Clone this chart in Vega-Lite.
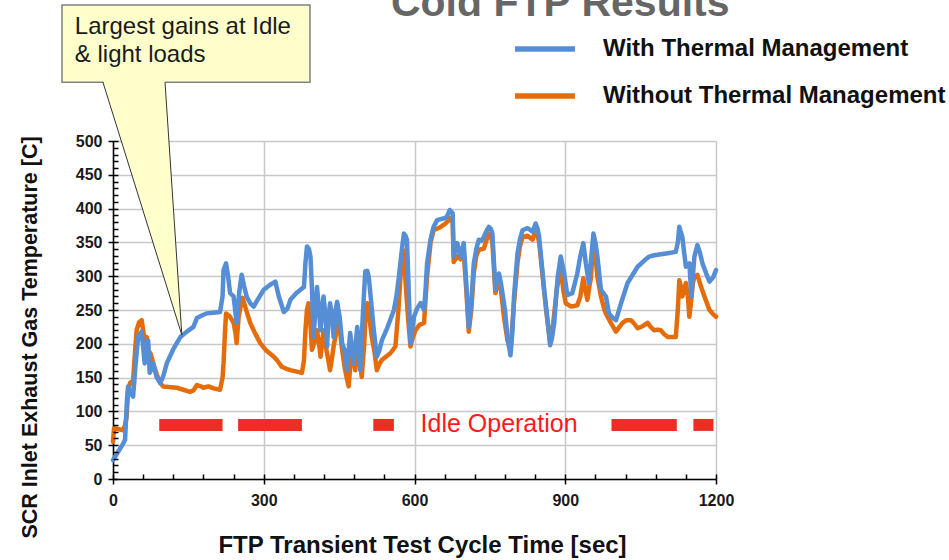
{
  "$schema": "https://vega.github.io/schema/vega-lite/v6.json",
  "width": 603,
  "height": 338,
  "autosize": "none",
  "padding": {"left": 113, "top": 141, "right": 233, "bottom": 81},
  "background": "white",
  "config": {"view": {"stroke": null}, "font": "Liberation Sans"},
  "resolve": {"axis": {"x": "independent", "y": "independent"}},
  "layer": [
    {
      "data": {"values": [
        {"s": 92, "e": 218, "y": 80},
        {"s": 249, "e": 376, "y": 80},
        {"s": 518, "e": 559, "y": 80},
        {"s": 992, "e": 1122, "y": 80},
        {"s": 1155, "e": 1195, "y": 80}
      ]},
      "mark": {"type": "rule", "strokeWidth": 12, "color": "#ee2e24", "strokeCap": "butt"},
      "encoding": {
        "x": {"field": "s", "type": "quantitative", "scale": {"domain": [0, 1200], "nice": false, "zero": false},
          "axis": {"orient": "bottom", "values": [0,60,120,180,240,300,360,420,480,540,600,660,720,780,840,900,960,1020,1080,1140,1200],
            "tickSize": -5, "tickColor": "black", "tickWidth": 1.5, "labels": false, "domain": false, "grid": false, "title": null, "zindex": 1}},
        "x2": {"field": "e"},
        "y": {"field": "y", "type": "quantitative", "scale": {"domain": [0, 500], "nice": false, "zero": false},
          "axis": {"orient": "left", "values": [0,10,20,30,40,50,60,70,80,90,100,110,120,130,140,150,160,170,180,190,200,210,220,230,240,250,260,270,280,290,300,310,320,330,340,350,360,370,380,390,400,410,420,430,440,450,460,470,480,490,500],
            "tickSize": -5, "tickColor": "black", "tickWidth": 1.5, "labels": false, "domain": false, "grid": false, "title": null, "zindex": 1}}
      }
    },
    {
      "data": {"values": [{"t": 612, "v": 81, "label": "Idle Operation"}]},
      "mark": {"type": "text", "align": "left", "baseline": "middle", "fontSize": 25, "color": "#ff1a1a", "font": "Liberation Sans"},
      "encoding": {
        "x": {"field": "t", "type": "quantitative", "axis": null},
        "y": {"field": "v", "type": "quantitative", "axis": null},
        "text": {"field": "label"}
      }
    },
    {
      "data": {"values": [
        {"t":0,"v":55},{"t":2,"v":75},{"t":10,"v":74},{"t":20,"v":72},{"t":24,"v":80},{"t":27,"v":92},{"t":30,"v":130},{"t":34,"v":142},{"t":40,"v":146},{"t":44,"v":190},{"t":47,"v":220},{"t":52,"v":232},{"t":57,"v":235},{"t":60,"v":220},{"t":63,"v":201},{"t":67,"v":210},{"t":70,"v":191},{"t":75,"v":185},{"t":80,"v":171},{"t":87,"v":155},{"t":94,"v":142},{"t":100,"v":137},{"t":127,"v":135},{"t":140,"v":132},{"t":153,"v":129},{"t":160,"v":131},{"t":167,"v":139},{"t":175,"v":137},{"t":180,"v":135},{"t":190,"v":137},{"t":200,"v":134},{"t":213,"v":132},{"t":218,"v":150},{"t":220,"v":171},{"t":223,"v":220},{"t":225,"v":245},{"t":230,"v":242},{"t":233,"v":240},{"t":240,"v":231},{"t":244,"v":215},{"t":246,"v":201},{"t":250,"v":240},{"t":254,"v":255},{"t":258,"v":268},{"t":265,"v":250},{"t":273,"v":231},{"t":283,"v":215},{"t":293,"v":201},{"t":305,"v":190},{"t":320,"v":181},{"t":326,"v":176},{"t":336,"v":166},{"t":345,"v":163},{"t":353,"v":161},{"t":376,"v":157},{"t":380,"v":175},{"t":383,"v":220},{"t":386,"v":250},{"t":389,"v":260},{"t":392,"v":240},{"t":396,"v":191},{"t":400,"v":200},{"t":406,"v":220},{"t":410,"v":200},{"t":413,"v":181},{"t":416,"v":200},{"t":419,"v":220},{"t":425,"v":190},{"t":432,"v":161},{"t":436,"v":180},{"t":439,"v":196},{"t":445,"v":220},{"t":449,"v":240},{"t":453,"v":210},{"t":456,"v":191},{"t":461,"v":165},{"t":465,"v":150},{"t":469,"v":137},{"t":472,"v":165},{"t":475,"v":201},{"t":479,"v":180},{"t":482,"v":161},{"t":486,"v":190},{"t":489,"v":201},{"t":492,"v":170},{"t":495,"v":151},{"t":500,"v":200},{"t":503,"v":250},{"t":506,"v":260},{"t":510,"v":240},{"t":515,"v":210},{"t":520,"v":190},{"t":525,"v":161},{"t":530,"v":170},{"t":535,"v":176},{"t":545,"v":182},{"t":552,"v":186},{"t":562,"v":196},{"t":568,"v":250},{"t":575,"v":334},{"t":579,"v":338},{"t":582,"v":294},{"t":587,"v":240},{"t":592,"v":196},{"t":597,"v":210},{"t":602,"v":220},{"t":610,"v":228},{"t":619,"v":231},{"t":625,"v":300},{"t":632,"v":350},{"t":638,"v":368},{"t":650,"v":372},{"t":662,"v":378},{"t":667,"v":382},{"t":670,"v":386},{"t":676,"v":380},{"t":678,"v":321},{"t":685,"v":330},{"t":692,"v":325},{"t":698,"v":334},{"t":703,"v":280},{"t":708,"v":218},{"t":713,"v":250},{"t":718,"v":305},{"t":723,"v":330},{"t":728,"v":339},{"t":738,"v":341},{"t":744,"v":355},{"t":748,"v":363},{"t":752,"v":360},{"t":755,"v":350},{"t":761,"v":275},{"t":766,"v":290},{"t":772,"v":280},{"t":778,"v":240},{"t":785,"v":205},{"t":791,"v":190},{"t":798,"v":260},{"t":805,"v":320},{"t":810,"v":345},{"t":815,"v":358},{"t":825,"v":360},{"t":835,"v":354},{"t":841,"v":368},{"t":845,"v":360},{"t":848,"v":350},{"t":855,"v":300},{"t":862,"v":250},{"t":870,"v":201},{"t":876,"v":230},{"t":883,"v":280},{"t":891,"v":314},{"t":896,"v":280},{"t":901,"v":260},{"t":912,"v":255},{"t":924,"v":257},{"t":930,"v":270},{"t":936,"v":297},{"t":940,"v":280},{"t":944,"v":265},{"t":948,"v":285},{"t":951,"v":297},{"t":956,"v":354},{"t":960,"v":330},{"t":964,"v":299},{"t":971,"v":270},{"t":978,"v":250},{"t":984,"v":240},{"t":993,"v":228},{"t":1001,"v":218},{"t":1008,"v":225},{"t":1014,"v":231},{"t":1022,"v":235},{"t":1031,"v":235},{"t":1037,"v":230},{"t":1044,"v":223},{"t":1054,"v":226},{"t":1064,"v":231},{"t":1070,"v":225},{"t":1077,"v":220},{"t":1084,"v":221},{"t":1090,"v":220},{"t":1097,"v":214},{"t":1104,"v":210},{"t":1120,"v":210},{"t":1124,"v":250},{"t":1127,"v":294},{"t":1130,"v":285},{"t":1133,"v":270},{"t":1137,"v":280},{"t":1140,"v":290},{"t":1144,"v":270},{"t":1147,"v":240},{"t":1150,"v":260},{"t":1154,"v":290},{"t":1157,"v":299},{"t":1163,"v":302},{"t":1170,"v":285},{"t":1177,"v":270},{"t":1183,"v":258},{"t":1187,"v":250},{"t":1194,"v":244},{"t":1200,"v":240}
      ]},
      "mark": {"type": "line", "strokeWidth": 4.5, "strokeJoin": "round", "strokeCap": "round"},
      "encoding": {
        "x": {"field": "t", "type": "quantitative", "axis": null},
        "y": {"field": "v", "type": "quantitative", "axis": null},
        "color": {"datum": "Without Thermal Management", "type": "nominal"}
      }
    },
    {
      "data": {"values": [
        {"t":0,"v":28},{"t":10,"v":40},{"t":20,"v":52},{"t":24,"v":58},{"t":28,"v":120},{"t":30,"v":137},{"t":35,"v":128},{"t":40,"v":122},{"t":45,"v":170},{"t":50,"v":210},{"t":57,"v":218},{"t":63,"v":171},{"t":70,"v":205},{"t":73,"v":157},{"t":80,"v":171},{"t":87,"v":150},{"t":94,"v":142},{"t":100,"v":152},{"t":107,"v":171},{"t":120,"v":192},{"t":134,"v":210},{"t":147,"v":218},{"t":160,"v":225},{"t":167,"v":238},{"t":180,"v":243},{"t":187,"v":245},{"t":200,"v":246},{"t":213,"v":247},{"t":218,"v":270},{"t":220,"v":309},{"t":225,"v":319},{"t":229,"v":300},{"t":233,"v":275},{"t":240,"v":270},{"t":246,"v":231},{"t":251,"v":275},{"t":256,"v":302},{"t":261,"v":285},{"t":266,"v":270},{"t":273,"v":260},{"t":280,"v":255},{"t":290,"v":268},{"t":300,"v":280},{"t":312,"v":287},{"t":323,"v":292},{"t":330,"v":270},{"t":340,"v":247},{"t":347,"v":252},{"t":353,"v":265},{"t":365,"v":275},{"t":380,"v":284},{"t":383,"v":320},{"t":386,"v":344},{"t":390,"v":340},{"t":393,"v":329},{"t":396,"v":280},{"t":399,"v":210},{"t":403,"v":250},{"t":406,"v":284},{"t":410,"v":250},{"t":413,"v":220},{"t":416,"v":250},{"t":419,"v":270},{"t":423,"v":240},{"t":426,"v":196},{"t":429,"v":240},{"t":432,"v":260},{"t":436,"v":240},{"t":439,"v":210},{"t":443,"v":250},{"t":446,"v":262},{"t":451,"v":240},{"t":456,"v":201},{"t":461,"v":190},{"t":466,"v":161},{"t":469,"v":190},{"t":472,"v":216},{"t":476,"v":190},{"t":479,"v":171},{"t":483,"v":200},{"t":486,"v":225},{"t":489,"v":200},{"t":492,"v":161},{"t":497,"v":240},{"t":502,"v":307},{"t":506,"v":308},{"t":509,"v":299},{"t":514,"v":260},{"t":519,"v":220},{"t":525,"v":181},{"t":530,"v":190},{"t":535,"v":205},{"t":545,"v":222},{"t":559,"v":250},{"t":564,"v":270},{"t":569,"v":299},{"t":575,"v":340},{"t":579,"v":363},{"t":582,"v":360},{"t":585,"v":354},{"t":588,"v":290},{"t":592,"v":201},{"t":599,"v":240},{"t":605,"v":252},{"t":612,"v":260},{"t":619,"v":250},{"t":622,"v":280},{"t":625,"v":319},{"t":632,"v":355},{"t":638,"v":373},{"t":645,"v":383},{"t":655,"v":385},{"t":662,"v":386},{"t":667,"v":392},{"t":670,"v":398},{"t":676,"v":393},{"t":678,"v":329},{"t":685,"v":349},{"t":692,"v":329},{"t":698,"v":349},{"t":703,"v":290},{"t":708,"v":225},{"t":713,"v":260},{"t":718,"v":319},{"t":723,"v":340},{"t":728,"v":354},{"t":733,"v":352},{"t":738,"v":358},{"t":744,"v":368},{"t":748,"v":373},{"t":752,"v":370},{"t":755,"v":363},{"t":761,"v":280},{"t":765,"v":300},{"t":768,"v":304},{"t":772,"v":290},{"t":775,"v":275},{"t":780,"v":250},{"t":785,"v":210},{"t":791,"v":183},{"t":795,"v":220},{"t":798,"v":270},{"t":805,"v":334},{"t":810,"v":355},{"t":815,"v":368},{"t":825,"v":371},{"t":835,"v":366},{"t":841,"v":378},{"t":845,"v":370},{"t":848,"v":358},{"t":853,"v":320},{"t":858,"v":280},{"t":864,"v":240},{"t":870,"v":198},{"t":874,"v":210},{"t":878,"v":231},{"t":885,"v":299},{"t":891,"v":329},{"t":898,"v":304},{"t":904,"v":272},{"t":914,"v":275},{"t":924,"v":304},{"t":930,"v":330},{"t":936,"v":349},{"t":941,"v":319},{"t":947,"v":290},{"t":952,"v":330},{"t":956,"v":363},{"t":960,"v":350},{"t":964,"v":329},{"t":971,"v":280},{"t":981,"v":270},{"t":987,"v":245},{"t":995,"v":238},{"t":1001,"v":235},{"t":1011,"v":260},{"t":1024,"v":290},{"t":1044,"v":314},{"t":1060,"v":325},{"t":1067,"v":329},{"t":1077,"v":331},{"t":1104,"v":334},{"t":1120,"v":336},{"t":1124,"v":350},{"t":1127,"v":373},{"t":1130,"v":365},{"t":1133,"v":358},{"t":1140,"v":314},{"t":1147,"v":319},{"t":1151,"v":270},{"t":1154,"v":300},{"t":1157,"v":329},{"t":1163,"v":346},{"t":1168,"v":335},{"t":1173,"v":319},{"t":1180,"v":305},{"t":1187,"v":292},{"t":1194,"v":298},{"t":1200,"v":309}
      ]},
      "mark": {"type": "line", "strokeWidth": 4.5, "strokeJoin": "round", "strokeCap": "round"},
      "encoding": {
        "x": {"field": "t", "type": "quantitative",
          "axis": {"orient": "bottom", "values": [0, 300, 600, 900, 1200], "format": "d", "tickSize": 5, "tickColor": "black", "tickWidth": 1.5,
            "domainColor": "black", "domainWidth": 1.5, "labelFont": "Liberation Sans", "labelFontSize": 16, "labelFontWeight": "bold",
            "labelColor": "#1a1a1a", "labelPadding": 8, "labelFlush": false, "grid": true, "gridColor": "#c8c8c8", "gridWidth": 1.5,
            "title": "FTP Transient Test Cycle Time [sec]", "titleFont": "Liberation Sans", "titleFontSize": 24, "titleFontWeight": "bold",
            "titleColor": "#111111", "titleX": 309, "titleY": 66, "titleBaseline": "middle", "titleAlign": "center"}},
        "y": {"field": "v", "type": "quantitative",
          "axis": {"orient": "left", "values": [0,50,100,150,200,250,300,350,400,450,500], "format": "d", "tickSize": 5, "tickColor": "black", "tickWidth": 1.5,
            "domainColor": "black", "domainWidth": 1.5, "labelFont": "Liberation Sans", "labelFontSize": 16, "labelFontWeight": "bold",
            "labelColor": "#1a1a1a", "labelPadding": 6, "labelFlush": false, "grid": true, "gridColor": "#c8c8c8", "gridWidth": 1.5,
            "title": "SCR Inlet Exhaust Gas Temperature [C]", "titleFont": "Liberation Sans", "titleFontSize": 21.5, "titleFontWeight": "bold",
            "titleColor": "#111111", "titleX": -83, "titleY": 196, "titleBaseline": "middle", "titleAlign": "center", "titleAngle": 270}},
        "color": {"datum": "With Thermal Management", "type": "nominal",
          "scale": {"domain": ["With Thermal Management", "Without Thermal Management"], "range": ["#558ed5", "#e46c0a"]},
          "legend": {"orient": "none", "legendX": 399, "legendY": -125, "title": null, "symbolType": "stroke", "symbolSize": 3600,
            "symbolStrokeWidth": 5.5, "labelFont": "Liberation Sans", "labelFontSize": 24, "labelFontWeight": "bold", "labelColor": "#111111",
            "labelOffset": 25, "rowPadding": 2, "padding": 0, "labelLimit": 400}}
      }
    },
    {
      "data": {"values": [{"x1": -101.5, "x2": 392, "y1": 587, "y2": 701}]},
      "mark": {"type": "rect", "fill": "#ffffcc", "stroke": "#808080", "strokeWidth": 1.5},
      "encoding": {
        "x": {"field": "x1", "type": "quantitative", "axis": null},
        "x2": {"field": "x2"},
        "y": {"field": "y1", "type": "quantitative", "axis": null},
        "y2": {"field": "y2"}
      }
    },
    {
      "data": {"values": [{"v": 213, "xl": 137, "xr": 137}, {"v": 590, "xl": -20, "xr": 103.5}]},
      "mark": {"type": "area", "orient": "horizontal", "fill": "#ffffcc", "opacity": 1},
      "encoding": {
        "y": {"field": "v", "type": "quantitative", "axis": null},
        "x": {"field": "xl", "type": "quantitative", "axis": null},
        "x2": {"field": "xr"}
      }
    },
    {
      "data": {"values": [{"x1": -20, "y1": 587, "x2": 137, "y2": 213}, {"x1": 103.5, "y1": 587, "x2": 137, "y2": 213}]},
      "mark": {"type": "rule", "color": "#333333", "strokeWidth": 1},
      "encoding": {
        "x": {"field": "x1", "type": "quantitative", "axis": null},
        "y": {"field": "y1", "type": "quantitative", "axis": null},
        "x2": {"field": "x2"},
        "y2": {"field": "y2"}
      }
    },
    {
      "data": {"values": [{"t": -76, "v": 668.5, "label": "Largest gains at Idle"}, {"t": -76, "v": 627, "label": "& light loads"}]},
      "mark": {"type": "text", "align": "left", "baseline": "middle", "fontSize": 24, "color": "#1a1a1a", "font": "Liberation Sans"},
      "encoding": {
        "x": {"field": "t", "type": "quantitative", "axis": null},
        "y": {"field": "v", "type": "quantitative", "axis": null},
        "text": {"field": "label"}
      }
    },
    {
      "data": {"values": [{"t": 890, "v": 685, "label": "Cold FTP Results"}]},
      "mark": {"type": "text", "align": "center", "baseline": "alphabetic", "fontSize": 41, "fontWeight": "bold", "color": "#666666", "font": "Liberation Sans"},
      "encoding": {
        "x": {"field": "t", "type": "quantitative", "axis": null},
        "y": {"field": "v", "type": "quantitative", "axis": null},
        "text": {"field": "label"}
      }
    }
  ]
}
